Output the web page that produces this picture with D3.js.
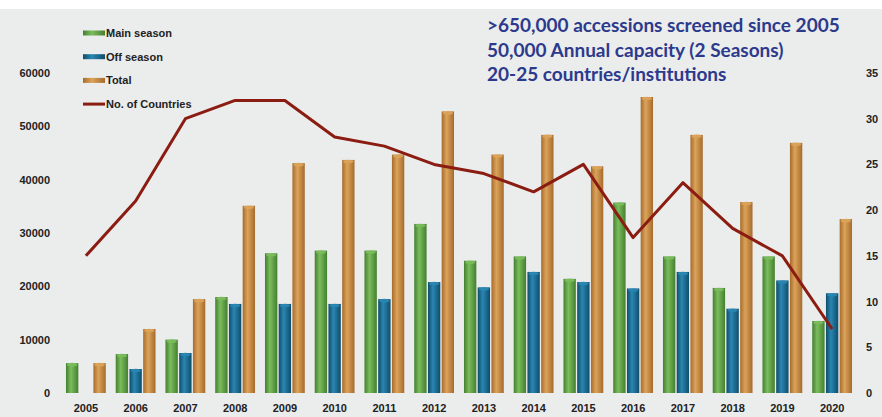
<!DOCTYPE html>
<html><head><meta charset="utf-8">
<script src="https://cdn.jsdelivr.net/npm/d3@7"></script>
<style>
html,body{margin:0;padding:0;background:#fff;}
svg{display:block;}
</style></head>
<body>
<svg id="chart" width="882" height="417"></svg>
<script>
const years = ["2005","2006","2007","2008","2009","2010","2011","2012","2013","2014","2015","2016","2017","2018","2019","2020"];
const mainSeason = [5600,7300,10000,18000,26200,26700,26700,31700,24800,25600,21400,35700,25600,19700,25600,13500];
const offSeason  = [0,4500,7500,16700,16700,16700,17600,20800,19800,22700,20800,19600,22700,15800,21100,18700];
const total      = [5600,12000,17600,35100,43100,43700,44700,52800,44700,48400,42500,55500,48400,35800,46900,32600];
const countries  = [15,21,30,32,32,28,27,25,24,22,25,17,23,18,15,7];
const leftTicks  = [0,10000,20000,30000,40000,50000,60000];
const rightTicks = [0,5,10,15,20,25,30,35];
const seriesNames = ["Main season","Off season","Total"];
const legendNames = ["Main season","Off season","Total","No. of Countries"];
const notes = [">650,000 accessions screened since 2005","50,000 Annual capacity (2 Seasons)","20-25 countries/institutions"];

const colors = {"Main season":["#447f30","#7bbd5c"],"Off season":["#0f4d6a","#2a86b3"],"Total":["#a66b2c","#dca35a"]};
const lineColor = "#8a1c12";

const svg = d3.select("#chart");
svg.append("rect").attr("x",0).attr("y",9).attr("width",882).attr("height",408).attr("fill","#ebecec");

const defs = svg.append("defs");
seriesNames.forEach((s,i)=>{
  const g = defs.append("linearGradient").attr("id","g"+i).attr("x1","0").attr("x2","1").attr("y1","0").attr("y2","0");
  g.append("stop").attr("offset","0%").attr("stop-color",colors[s][0]);
  g.append("stop").attr("offset","40%").attr("stop-color",colors[s][1]);
  g.append("stop").attr("offset","100%").attr("stop-color",colors[s][0]);
});

const y = d3.scaleLinear().domain([0,60000]).range([393,73]);
const y2 = d3.scaleLinear().domain([0,35]).range([393,73]);
const x0 = d3.scaleBand().domain(years).range([61,857]).paddingInner(0.2).paddingOuter(0.1);
const x1 = d3.scaleBand().domain(seriesNames).range([0,x0.bandwidth()]).paddingInner(0.1);

const data = years.map((yr,i)=>({year:yr, vals:[mainSeason[i],offSeason[i],total[i]]}));

const groups = svg.append("g").selectAll("g").data(data).join("g")
  .attr("transform",d=>`translate(${x0(d.year)},0)`);
groups.selectAll("rect.bar").data(d=>d.vals.map((v,i)=>({s:seriesNames[i],i,v})).filter(e=>e.v>0))
  .join("rect").attr("class","bar")
  .attr("x",e=>x1(e.s)).attr("width",x1.bandwidth())
  .attr("y",e=>y(e.v)).attr("height",e=>y(0)-y(e.v))
  .attr("fill",e=>`url(#g${e.i})`);
groups.selectAll("ellipse").data(d=>d.vals.map((v,i)=>({s:seriesNames[i],i,v})).filter(e=>e.v>0))
  .join("ellipse")
  .attr("cx",e=>x1(e.s)+x1.bandwidth()/2).attr("cy",e=>y(e.v)+1.5)
  .attr("rx",x1.bandwidth()/2-1).attr("ry",1.8)
  .attr("fill",e=>colors[e.s][1]).attr("opacity",0.9);

const font = "'Liberation Sans', Arial, sans-serif";
// left axis
const la = svg.append("g").attr("transform","translate(52,0)")
  .call(d3.axisLeft(y).tickValues(leftTicks).tickFormat(d3.format("d")).tickSize(0).tickPadding(2));
la.select(".domain").remove();
la.selectAll("text").attr("font-family",font).attr("font-weight","bold").attr("font-size",11).attr("fill","#222");

// right axis
const ra = svg.append("g").attr("transform","translate(864,0)")
  .call(d3.axisRight(y2).tickValues(rightTicks).tickSize(0).tickPadding(2));
ra.select(".domain").remove();
ra.selectAll("text").attr("font-family",font).attr("font-weight","bold").attr("font-size",11).attr("fill","#222");

// x axis
const xa = svg.append("g").attr("transform","translate(0,400)")
  .call(d3.axisBottom(x0).tickSize(0).tickPadding(4));
xa.select(".domain").remove();
xa.selectAll("text").attr("font-family",font).attr("font-weight","bold").attr("font-size",11).attr("fill","#222");

// line
const line = d3.line().x((d,i)=>x0(years[i])+x0.bandwidth()/2).y(d=>y2(d));
svg.append("path").datum(countries).attr("d",line).attr("fill","none")
  .attr("stroke",lineColor).attr("stroke-width",3).attr("stroke-linejoin","round");

// legend
const lg = svg.append("g");
legendNames.forEach((n,i)=>{
  const yy = 33 + i*23.7;
  if(i<3){
    lg.append("rect").attr("x",83).attr("y",yy-2.5).attr("width",22).attr("height",5)
      .attr("fill",`url(#g${i})`);
  } else {
    lg.append("line").attr("x1",83).attr("x2",105).attr("y1",yy).attr("y2",yy)
      .attr("stroke",lineColor).attr("stroke-width",3);
  }
  lg.append("text").attr("x",106).attr("y",yy+4).text(n)
    .attr("font-family",font).attr("font-weight","bold").attr("font-size",11).attr("fill","#222");
});

// notes
svg.append("g").selectAll("text").data(notes).join("text")
  .attr("x",487).attr("y",(d,i)=>32+i*24.5).text(d=>d)
  .attr("font-family","Lato, 'Open Sans', sans-serif").attr("font-weight","bold")
  .attr("font-size",19).attr("fill","#2c3a8c");
</script>
</body></html>
